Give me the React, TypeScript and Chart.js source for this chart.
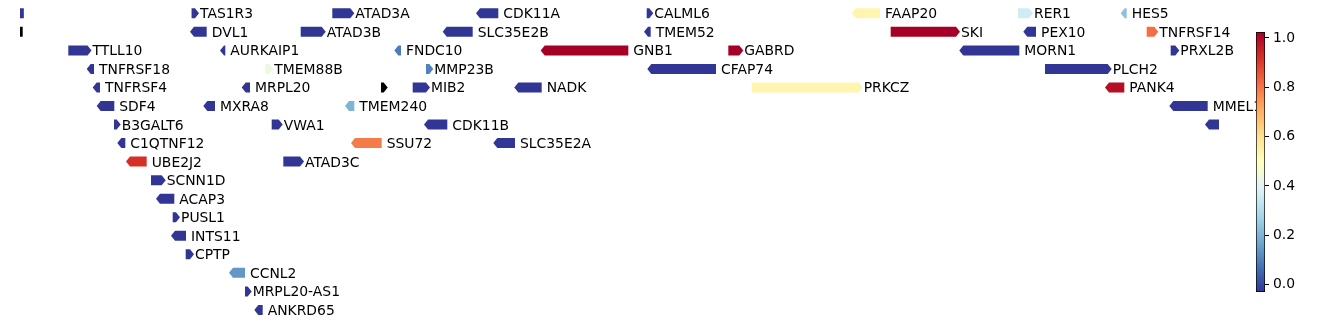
import React, { useEffect, useRef } from 'react';
import { Chart, registerables } from 'chart.js';
Chart.register(...registerables);

// ---- data (positions in kb, rows = track lanes, values = colour score; NaN = missing) ----
const geneNames = [
  '', 'TAS1R3', 'ATAD3A', 'CDK11A', 'CALML6', 'FAAP20', 'RER1', 'HES5',
  '', 'DVL1', 'ATAD3B', 'SLC35E2B', 'TMEM52', 'SKI', 'PEX10', 'TNFRSF14',
  'TTLL10', 'AURKAIP1', 'FNDC10', 'GNB1', 'GABRD', 'MORN1', 'PRXL2B',
  'TNFRSF18', 'TMEM88B', 'MMP23B', 'CFAP74', 'PLCH2',
  'TNFRSF4', 'MRPL20', '', 'MIB2', 'NADK', 'PRKCZ', 'PANK4',
  'SDF4', 'MXRA8', 'TMEM240', 'MMEL1',
  'B3GALT6', 'VWA1', 'CDK11B', '',
  'C1QTNF12', 'SSU72', 'SLC35E2A',
  'UBE2J2', 'ATAD3C',
  'SCNN1D', 'ACAP3', 'PUSL1', 'INTS11', 'CPTP', 'CCNL2', 'MRPL20-AS1', 'ANKRD65',
];
const geneStarts = [
  1080, 1323, 1506, 1698, 1914.7, 2186.4, 2397.4, 2536.1,
  1080, 1326.2, 1464.9, 1654.7, 1916.4, 2231.9, 2409.5, 2564.7,
  1162.8, 1365.2, 1591.8, 1782.1, 2020.8, 2326.3, 2595.9,
  1191.9, 1418.5, 1627.8, 1920.7, 2432.5,
  1199.7, 1393.4, 1569.3, 1610.5, 1747.8, 2051.2, 2515.7,
  1204.9, 1343.5, 1527.7, 2599.3,
  1222.2, 1427.2, 1630.4, 2645.7,
  1231.7, 1535.5, 1720.5,
  1243, 1442.3,
  1270.3, 1282, 1298.5, 1301.5, 1315.4, 1376.9, 1392.5, 1409.8,
];
const geneEnds = [
  1105, 1327.5, 1529.4, 1721.8, 1918.1, 2218, 2411.7, 2538.7,
  1103.5, 1342.7, 1492.2, 1688.5, 1919.9, 2316.8, 2420.8, 2574.6,
  1187.8, 1366.9, 1595.3, 1890.8, 2035.1, 2399.1, 2601.9,
  1196.2, 1424.1, 1632.1, 2004.8, 2514,
  1204, 1399, 1572.8, 1627.8, 1778.2, 2190.3, 2535.6,
  1222.6, 1353.5, 1534.6, 2644,
  1225.7, 1436.3, 1655.5, 2680,
  1236.9, 1570.2, 1743.5,
  1264.7, 1464,
  1284.2, 1300.6, 1302.8, 1315.8, 1321, 1392.5, 1396, 1415.5,
];
const geneStrands = [
  -1, 1, 1, -1, 1, -1, 1, -1,
  -1, -1, 1, -1, -1, 1, -1, 1,
  1, -1, -1, -1, 1, -1, 1,
  -1, 1, 1, -1, 1,
  -1, -1, 1, 1, -1, 1, -1,
  -1, -1, -1, -1,
  1, 1, -1, -1,
  -1, -1, -1,
  -1, 1,
  1, -1, 1, -1, 1, -1, 1, -1,
];
const geneRows = [
  0, 0, 0, 0, 0, 0, 0, 0,
  1, 1, 1, 1, 1, 1, 1, 1,
  2, 2, 2, 2, 2, 2, 2,
  3, 3, 3, 3, 3,
  4, 4, 4, 4, 4, 4, 4,
  5, 5, 5, 5,
  6, 6, 6, 6,
  7, 7, 7,
  8, 8,
  9, 10, 11, 12, 13, 14, 15, 16,
];
const geneValues = [
  -0.03, -0.03, -0.03, -0.03, -0.03, 0.53, 0.36, 0.23,
  NaN, -0.03, -0.03, -0.03, -0.03, 1.024, -0.03, 0.81,
  -0.03, -0.03, 0.09, 1.024, 1.024, -0.03, -0.03,
  -0.03, 0.44, 0.1, -0.03, -0.03,
  -0.03, -0.03, NaN, -0.03, -0.03, 0.53, 0.99,
  -0.03, -0.03, 0.2, -0.03,
  -0.03, -0.03, -0.03, -0.03,
  -0.03, 0.79, -0.03,
  0.92, -0.03,
  -0.03, -0.03, -0.03, -0.03, -0.03, 0.14, -0.03, -0.03,
];
const xRange = [1100, 2658.7];
const colorRange = [-0.03, 1.024];
const colorbarTicks = [0, 0.2, 0.4, 0.6, 0.8, 1.0];

// RdYlBu_r anchors
const RDYLBU_R = [
  '#313695', '#4575b4', '#74add1', '#abd9e9', '#e0f3f8', '#ffffbf',
  '#fee090', '#fdae61', '#f46d43', '#d73027', '#a50026',
];

function hexToRgb(h: string) {
  return [parseInt(h.slice(1, 3), 16), parseInt(h.slice(3, 5), 16), parseInt(h.slice(5, 7), 16)];
}
function cmap(v: number) {
  if (!isFinite(v)) return '#000000';
  let t = (v - colorRange[0]) / (colorRange[1] - colorRange[0]);
  t = Math.max(0, Math.min(1, t));
  const p = t * (RDYLBU_R.length - 1);
  const i = Math.min(Math.floor(p), RDYLBU_R.length - 2);
  const f = p - i;
  const a = hexToRgb(RDYLBU_R[i]);
  const b = hexToRgb(RDYLBU_R[i + 1]);
  const c = a.map((x, k) => Math.round(x + (b[k] - x) * f));
  return `rgb(${c[0]},${c[1]},${c[2]})`;
}

const FONT = '13.9px "DejaVu Sans"';
const ARROW_H = 10;
const HEAD = 4;
const LABEL_GAP = 5;

const genePlugin = {
  id: 'geneArrows',
  afterDatasetsDraw(chart: any) {
    const { ctx, chartArea } = chart;
    const xs = chart.scales.x;
    const ys = chart.scales.y;
    ctx.save();
    ctx.beginPath();
    ctx.rect(chartArea.left, chartArea.top, chartArea.right - chartArea.left, chartArea.bottom - chartArea.top);
    ctx.clip();
    for (let i = 0; i < geneNames.length; i++) {
      const x0 = xs.getPixelForValue(geneStarts[i]);
      const x1 = xs.getPixelForValue(geneEnds[i]);
      const yc = ys.getPixelForValue(geneRows[i]);
      const top = yc - ARROW_H / 2;
      const bot = yc + ARROW_H / 2;
      ctx.beginPath();
      if (geneStrands[i] > 0) {
        ctx.moveTo(x0, top);
        ctx.lineTo(x1, top);
        ctx.lineTo(x1 + HEAD, yc);
        ctx.lineTo(x1, bot);
        ctx.lineTo(x0, bot);
      } else {
        ctx.moveTo(x1, top);
        ctx.lineTo(x0, top);
        ctx.lineTo(x0 - HEAD, yc);
        ctx.lineTo(x0, bot);
        ctx.lineTo(x1, bot);
      }
      ctx.closePath();
      ctx.fillStyle = cmap(geneValues[i]);
      ctx.fill();
    }
    ctx.restore();
    ctx.save();
    ctx.font = FONT;
    ctx.fillStyle = '#000';
    ctx.textAlign = 'left';
    ctx.textBaseline = 'alphabetic';
    for (let i = 0; i < geneNames.length; i++) {
      if (!geneNames[i]) continue;
      const x1 = xs.getPixelForValue(geneEnds[i]);
      const yc = ys.getPixelForValue(geneRows[i]);
      ctx.fillText(geneNames[i], x1 + LABEL_GAP, yc + 5.0);
    }
    ctx.restore();
  },
};

export default function App() {
  const mainRef = useRef<HTMLCanvasElement>(null);
  const cbRef = useRef<HTMLCanvasElement>(null);

  useEffect(() => {
    document.body.style.margin = '0';
    const main = new Chart(mainRef.current!, {
      type: 'scatter',
      data: {
        datasets: [
          {
            data: geneNames.map((_, i) => ({ x: (geneStarts[i] + geneEnds[i]) / 2, y: geneRows[i] })),
            pointRadius: 0,
            pointHoverRadius: 0,
          },
        ],
      },
      options: {
        responsive: false,
        animation: false,
        devicePixelRatio: 1,
        layout: { padding: { left: 20, right: 119, top: 0, bottom: 0 } },
        plugins: { legend: { display: false }, tooltip: { enabled: false } },
        events: [],
        scales: {
          x: { type: 'linear', min: xRange[0], max: xRange[1], display: false },
          y: { type: 'linear', min: -0.717, max: 16.758, reverse: true, display: false },
        },
      },
      plugins: [genePlugin],
    });

    const cb = new Chart(cbRef.current!, {
      type: 'bar',
      data: {
        labels: [''],
        datasets: [
          {
            data: [[colorRange[0], colorRange[1]]] as any,
            backgroundColor: (c: any) => {
              const ca = c.chart.chartArea;
              if (!ca) return '#fff';
              const g = c.chart.ctx.createLinearGradient(0, ca.bottom, 0, ca.top);
              RDYLBU_R.forEach((col, k) => g.addColorStop(k / (RDYLBU_R.length - 1), col));
              return g;
            },
            borderColor: '#000',
            borderWidth: 1,
            borderSkipped: false,
            categoryPercentage: 1,
            barPercentage: 1,
          },
        ],
      },
      options: {
        responsive: false,
        animation: false,
        devicePixelRatio: 1,
        events: [],
        layout: { padding: { left: 6, right: 0, top: 32, bottom: 32 } },
        plugins: { legend: { display: false }, tooltip: { enabled: false } },
        scales: {
          x: { display: false },
          y: {
            position: 'right',
            min: colorRange[0],
            max: colorRange[1],
            afterBuildTicks: (axis: any) => {
              axis.ticks = colorbarTicks.map((v) => ({ value: v }));
            },
            afterFit: (scale: any) => {
              scale.width = 73;
            },
            ticks: {
              color: '#000',
              padding: 4,
              font: { family: 'DejaVu Sans', size: 13.9 },
              callback: (v: any) => Number(v).toFixed(1),
            },
            grid: { drawOnChartArea: false, drawTicks: true, tickLength: 4, color: '#000' },
            border: { display: false },
          },
        },
      },
    });

    return () => {
      main.destroy();
      cb.destroy();
    };
  }, []);

  return (
    <div style={{ position: 'fixed', left: 0, top: 0, width: 1338, height: 324, background: '#fff' }}>
      <canvas ref={mainRef} width={1338} height={324} style={{ position: 'absolute', left: 0, top: 0 }} />
      <canvas ref={cbRef} width={88} height={324} style={{ position: 'absolute', left: 1250, top: 0 }} />
    </div>
  );
}
